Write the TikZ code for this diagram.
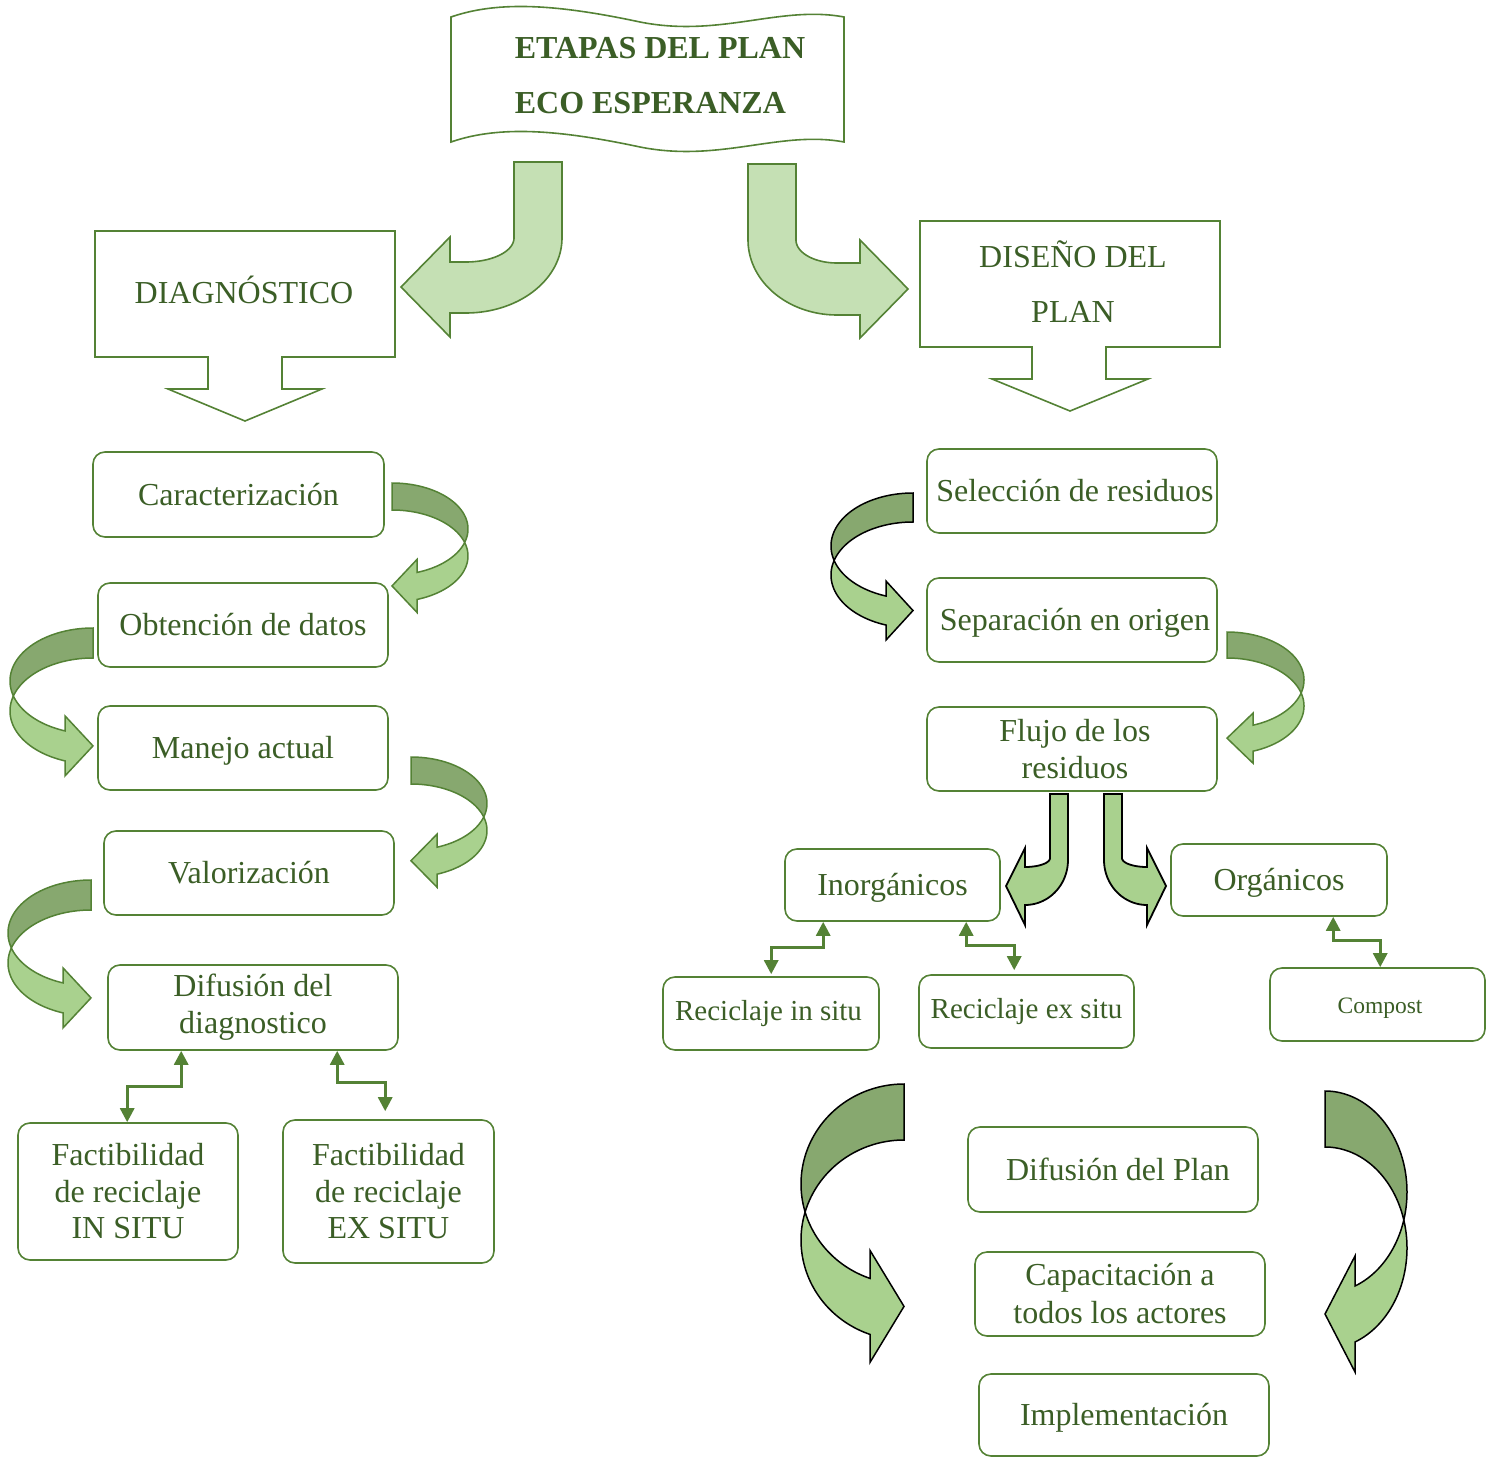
\documentclass[tikz,border=0pt]{standalone}
\usepackage{fontspec}
\setmainfont{Liberation Serif}
\usetikzlibrary{arrows.meta}

\definecolor{gline}{HTML}{548235}
\definecolor{gtext}{HTML}{3B5E26}
\definecolor{gpale}{HTML}{C5E0B4}
\definecolor{glight}{HTML}{A9D18E}
\definecolor{gdark}{HTML}{87A86F}

% Curved band arrow bulging to the right, head pointing left.
% #1 x of tail/tip, #2 tail top, #3 band thickness, #4 x radius, #5 y radius,
% #6 head length, #7 barb overhang, #8 border colour
\newcommand\crvR[8]{%
  \pgfmathsetmacro\cyA{#2+#5}%
  \pgfmathsetmacro\cyB{#2+#5+#3}%
  \pgfmathsetmacro\angM{asin(#3/(2*#5))}%
  \pgfmathsetmacro\angH{acos(#6/#4)}%
  \pgfmathsetmacro\yAh{\cyA+#5*sin(\angH)}%
  \pgfmathsetmacro\yBh{\cyB+#5*sin(\angH)}%
  \pgfmathsetmacro\yTip{(\yAh+\yBh)/2}%
  \filldraw[fill=gdark, draw=#8, bandline]
    plot[domain=-90:\angM, samples=60] ({#1+#4*cos(\x)},{\cyA+#5*sin(\x)})
    -- plot[domain=-\angM:-90, samples=60] ({#1+#4*cos(\x)},{\cyB+#5*sin(\x)}) -- cycle;
  \filldraw[fill=glight, draw=#8, bandline]
    plot[domain=\angM:\angH, samples=60] ({#1+#4*cos(\x)},{\cyA+#5*sin(\x)})
    -- (#1+#6,\yAh-#7) -- (#1,\yTip) -- (#1+#6,\yBh+#7)
    -- plot[domain=\angH:-\angM, samples=60] ({#1+#4*cos(\x)},{\cyB+#5*sin(\x)}) -- cycle;
}
% The same band arrow bulging to the left, head pointing right.
\newcommand\crvL[8]{%
  \pgfmathsetmacro\cyA{#2+#5}%
  \pgfmathsetmacro\cyB{#2+#5+#3}%
  \pgfmathsetmacro\angM{asin(#3/(2*#5))}%
  \pgfmathsetmacro\angH{acos(#6/#4)}%
  \pgfmathsetmacro\yAh{\cyA+#5*sin(\angH)}%
  \pgfmathsetmacro\yBh{\cyB+#5*sin(\angH)}%
  \pgfmathsetmacro\yTip{(\yAh+\yBh)/2}%
  \filldraw[fill=gdark, draw=#8, bandline]
    plot[domain=-90:\angM, samples=60] ({#1-#4*cos(\x)},{\cyA+#5*sin(\x)})
    -- plot[domain=-\angM:-90, samples=60] ({#1-#4*cos(\x)},{\cyB+#5*sin(\x)}) -- cycle;
  \filldraw[fill=glight, draw=#8, bandline]
    plot[domain=\angM:\angH, samples=60] ({#1-#4*cos(\x)},{\cyA+#5*sin(\x)})
    -- (#1-#6,\yAh-#7) -- (#1,\yTip) -- (#1-#6,\yBh+#7)
    -- plot[domain=\angH:-\angM, samples=60] ({#1-#4*cos(\x)},{\cyB+#5*sin(\x)}) -- cycle;
}

\tikzset{
  bandline/.style={line width=1.5pt, line join=miter},
  rbox/.style={draw=gline, line width=1.6pt, rounded corners=12pt, fill=white,
    text=gtext, align=center, inner sep=0pt, font=\fontsize{32}{37}\selectfont},
  one/.style={text height=26pt, text depth=5pt},
  lbl/.style={text=gtext, align=center, inner sep=0pt, font=\fontsize{32}{55}\selectfont},
  callout/.style={draw=gline, line width=1.6pt, fill=white, line join=miter},
  blockarrow/.style={draw=gline, line width=1.6pt, fill=gpale, line join=miter},
  splitarrow/.style={draw=black, line width=1.8pt, fill=glight, line join=miter},
  elb/.style={draw=gline, line width=3pt,
    {Triangle[length=14pt,width=14pt]}-{Triangle[length=14pt,width=14pt]}},
}

\begin{document}
\begin{tikzpicture}[x=1pt, y=-1pt]
\useasboundingbox (0,0) rectangle (1486,1458);

% ---- title banner ----
\draw[callout] (451,17) .. controls (500,0) and (560,5) .. (640,22)
  .. controls (720,38) and (780,5) .. (844,17) -- (844,142)
  .. controls (780,130) and (720,163) .. (640,147)
  .. controls (560,130) and (500,125) .. (451,142) -- cycle;
\node[lbl, align=left, font=\fontsize{32}{55}\selectfont\bfseries] (title) at (660,76)
  {ETAPAS DEL PLAN\\ECO ESPERANZA};

% ---- bent arrows from the title ----
\filldraw[blockarrow] (514,162) -- (562,162) -- (562,238)
  -- plot[domain=0:90, samples=40] ({466+96*cos(\x)},{238+75*sin(\x)})
  -- (450,313) -- (450,337) -- (401,287) -- (450,237) -- (450,262) -- (466,262)
  -- plot[domain=90:0, samples=40] ({466+48*cos(\x)},{238+24*sin(\x)}) -- cycle;
\filldraw[blockarrow] (748,164) -- (796,164) -- (796,240)
  -- plot[domain=180:90, samples=40] ({837+41*cos(\x)},{240+23*sin(\x)})
  -- (860,263) -- (860,240) -- (908,289) -- (860,338) -- (860,315) -- (837,315)
  -- plot[domain=90:180, samples=40] ({837+89*cos(\x)},{240+75*sin(\x)}) -- cycle;

% ---- down-arrow callouts ----
\draw[callout] (95,231) -- (395,231) -- (395,357) -- (282,357) -- (282,389)
  -- (322,389) -- (245,421) -- (168,389) -- (208,389) -- (208,357) -- (95,357) -- cycle;
\node[lbl, one] (diag) at (244,293) {DIAGNÓSTICO};
\draw[callout] (920,221) -- (1220,221) -- (1220,347) -- (1106,347) -- (1106,379)
  -- (1148,379) -- (1070,411) -- (992,379) -- (1032,379) -- (1032,347) -- (920,347) -- cycle;
\node[lbl] (dis) at (1073,282) {DISEÑO DEL\\PLAN};

% ---- diagnosis column ----
\node[rbox, one, minimum width=291pt, minimum height=85pt] (car) at (238.5,494.5) {Caracterización};
\node[rbox, one, minimum width=290pt, minimum height=84pt] (obt) at (243,625) {Obtención de datos};
\node[rbox, one, minimum width=290pt, minimum height=84pt] (man) at (243,748) {Manejo actual};
\node[rbox, one, minimum width=290pt, minimum height=84pt] (val) at (249,873) {Valorización};
\node[rbox, minimum width=290pt, minimum height=85pt] (difd) at (253,1007.5) {Difusión del\\diagnostico};
\node[rbox, minimum width=220pt, minimum height=137pt, font=\fontsize{32}{36.5}\selectfont]
  (fin) at (128,1191.5) {Factibilidad\\de reciclaje\\IN SITU};
\node[rbox, minimum width=211pt, minimum height=143pt, font=\fontsize{32}{36.5}\selectfont]
  (fex) at (388.5,1191.5) {Factibilidad\\de reciclaje\\EX SITU};

\crvR{392}{483}{27}{76}{46}{25}{13}{gline}
\crvL{93}{628}{30}{83}{53}{28}{15}{gline}
\crvR{411}{757}{27}{76}{46.5}{26}{13}{gline}
\crvL{91}{880}{30}{83}{53}{28}{15}{gline}

\draw[elb] ([xshift=74pt]difd.south west) -- ++(0,36) -| ([xshift=110pt]fin.north west);
\draw[elb] ([xshift=230pt]difd.south west) -- ++(0,32) -| ([xshift=103pt,yshift=8pt]fex.north west);

% ---- plan design column ----
\node[rbox, one, minimum width=290pt, minimum height=84pt] (sel) at (1072,491) {\hspace*{6pt}Selección de residuos};
\node[rbox, one, minimum width=290pt, minimum height=84pt] (sep) at (1072,620) {\hspace*{6pt}Separación en origen};
\node[rbox, minimum width=290pt, minimum height=84pt] (flu) at (1072,749) {\hspace*{6pt}Flujo de los\\\hspace*{6pt}residuos};
\node[rbox, one, minimum width=215pt, minimum height=72pt] (ino) at (892.5,885) {Inorgánicos};
\node[rbox, one, minimum width=216pt, minimum height=72pt] (org) at (1279,880) {Orgánicos};
\node[rbox, minimum width=216pt, minimum height=73pt, font=\fontsize{29}{34}\selectfont,
  text height=20pt, text depth=6pt] (ris) at (771,1013.5) {Reciclaje in situ\hspace*{5pt}};
\node[rbox, minimum width=215pt, minimum height=73pt, font=\fontsize{29}{34}\selectfont,
  text height=20pt, text depth=6pt] (rex) at (1026.5,1011.5) {Reciclaje ex situ};
\node[rbox, minimum width=215pt, minimum height=73pt, font=\fontsize{23.5}{28}\selectfont,
  text height=17pt, text depth=0pt] (com) at (1377.5,1004.5) {\hspace*{5pt}Compost};
\node[rbox, one, minimum width=290pt, minimum height=85pt] (dpl) at (1113,1169.5) {\hspace*{10pt}Difusión del Plan};
\node[rbox, minimum width=290pt, minimum height=84pt, font=\fontsize{32}{38}\selectfont]
  (cap) at (1120,1294) {Capacitación a\\todos los actores};
\node[rbox, one, minimum width=290pt, minimum height=82pt] (imp) at (1124,1415) {Implementación};

\crvL{913}{493}{29}{82}{53}{27}{15}{black}
\crvR{1227}{632}{26}{77}{48}{26}{12}{gline}

% split of the waste flow
\filldraw[splitarrow] (1050,794) -- (1068,794) -- (1068,860)
  -- plot[domain=0:90, samples=30] ({1025+43*cos(\x)},{860+45*sin(\x)})
  -- (1025,925) -- (1006,886) -- (1025,848) -- (1025,867)
  -- plot[domain=90:0, samples=30] ({1025+25*cos(\x)},{858+9*sin(\x)}) -- cycle;
\filldraw[splitarrow] (1122,794) -- (1104,794) -- (1104,860)
  -- plot[domain=0:90, samples=30] ({1147-43*cos(\x)},{860+45*sin(\x)})
  -- (1147,925) -- (1166,886) -- (1147,848) -- (1147,867)
  -- plot[domain=90:0, samples=30] ({1147-25*cos(\x)},{858+9*sin(\x)}) -- cycle;

\draw[elb] ([xshift=39pt]ino.south west) -- ++(0,26) -| ([xshift=109pt,yshift=2pt]ris.north west);
\draw[elb] ([xshift=182pt]ino.south west) -- ++(0,24) -| ([xshift=96pt,yshift=4pt]rex.north west);
\draw[elb] ([xshift=163pt]org.south west) -- ++(0,24) -| ([xshift=111pt]com.north west);

% cycle arrows around the last stage
\crvL{904}{1084}{56}{103}{100}{34}{28}{black}
\crvR{1325}{1091}{56}{82}{101}{30}{30}{black}

\end{tikzpicture}
\end{document}
